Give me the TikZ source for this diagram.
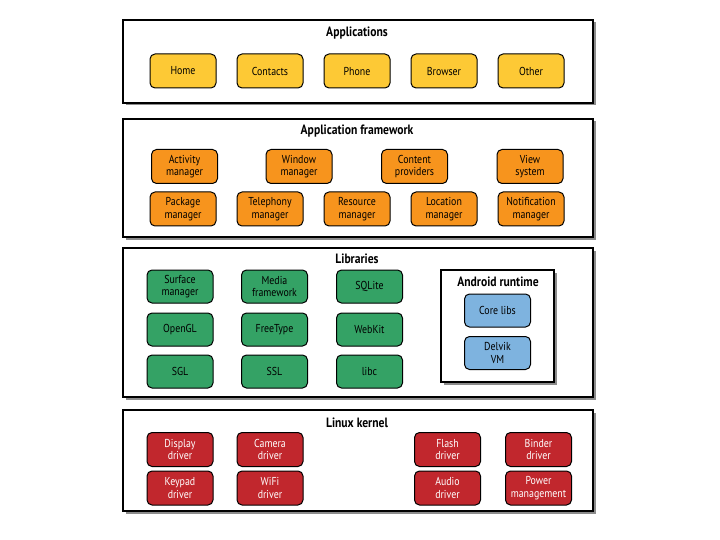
\documentclass[tikz,border=0pt]{standalone}
\usepackage{fontspec}
\setmainfont{PT Sans}[FakeStretch=0.86]
\usetikzlibrary{shadows}
\definecolor{appY}{HTML}{FDC935}
\definecolor{fwO}{HTML}{F7941D}
\definecolor{libG}{HTML}{34A265}
\definecolor{rtB}{HTML}{7EB3DF}
\definecolor{krR}{HTML}{C1272D}
\tikzset{
  layer/.style={draw=black, line width=1.4pt, fill=white,
    drop shadow={shadow xshift=2.5pt, shadow yshift=-2.5pt, fill=black!45, opacity=1}},
  blk/.style={draw=black, line width=1pt, rounded corners=5pt, minimum width=66pt,
    minimum height=34pt, align=center, inner sep=1pt,
    font=\fontsize{11.5}{12.5}\selectfont},
  ybox/.style={blk, fill=appY},
  obox/.style={blk, fill=fwO},
  gbox/.style={blk, fill=libG, minimum height=33pt},
  bbox/.style={blk, fill=rtB, minimum height=33pt},
  rbox/.style={blk, fill=krR, text=white, minimum height=34pt},
  ttl/.style={font=\fontsize{13.5}{15}\selectfont\bfseries, inner sep=0pt},
}
\begin{document}
\begin{tikzpicture}[x=1pt,y=-1pt]
\useasboundingbox (0,0) rectangle (720,540);
% layers
\node[layer, minimum width=470pt, minimum height=83pt] (Lapp) at (358,61.5) {};
\node[layer, minimum width=470pt, minimum height=118pt] (Lfw) at (358,178) {};
\node[layer, minimum width=470pt, minimum height=149pt] (Llib) at (358,322.5) {};
\node[layer, minimum width=470pt, minimum height=101pt] (Lkr) at (358,460.5) {};
\node[layer, line width=1.2pt, minimum width=113pt, minimum height=112pt] (Lrt) at (497.5,326) {};
% titles
\node[ttl] (tApp) at (357,33) {Applications};
\node[ttl] (tFw) at (357,131) {Application framework};
\node[ttl] (tLib) at (357,259) {Libraries};
\node[ttl] (tRt) at (498,282) {Android runtime};
\node[ttl] (tKr) at (357,423) {Linux kernel};
% applications
\node[ybox] (home) at (183,71) {Home};
\node[ybox] (contacts) at (270,71) {Contacts};
\node[ybox] (phone) at (357,71) {Phone};
\node[ybox] (browser) at (444,71) {Browser};
\node[ybox] (other) at (531,71) {Other};
% framework
\node[obox] (activity) at (184.5,166.5) {Activity\\manager};
\node[obox] (window) at (299,166.5) {Window\\manager};
\node[obox] (content) at (414.5,166.5) {Content\\providers};
\node[obox] (view) at (530,166.5) {View\\system};
\node[obox] (package) at (183,209) {Package\\manager};
\node[obox] (telephony) at (270,209) {Telephony\\manager};
\node[obox] (resource) at (357,209) {Resource\\manager};
\node[obox] (location) at (444,209) {Location\\manager};
\node[obox] (notification) at (531,209) {Notification\\manager};
% libraries
\node[gbox] (surface) at (180,286.5) {Surface\\manager};
\node[gbox] (media) at (274.5,286.5) {Media\\framework};
\node[gbox] (sqlite) at (369.5,286.5) {SQLite};
\node[gbox] (opengl) at (180,329.5) {OpenGL};
\node[gbox] (freetype) at (274.5,329.5) {FreeType};
\node[gbox] (webkit) at (369.5,329.5) {WebKit};
\node[gbox] (sgl) at (180,371.5) {SGL};
\node[gbox] (ssl) at (274.5,371.5) {SSL};
\node[gbox] (libc) at (369.5,371.5) {libc};
% runtime
\node[bbox] (corelibs) at (497.5,310.5) {Core libs};
\node[bbox] (delvik) at (497.5,353) {Delvik\\VM};
% kernel
\node[rbox] (display) at (180,449.5) {Display\\driver};
\node[rbox] (camera) at (270,449.5) {Camera\\driver};
\node[rbox] (flash) at (447.5,449.5) {Flash\\driver};
\node[rbox] (binder) at (538.5,449.5) {Binder\\driver};
\node[rbox] (keypad) at (180,488) {Keypad\\driver};
\node[rbox] (wifi) at (270,488) {WiFi\\driver};
\node[rbox] (audio) at (447.5,488) {Audio\\driver};
\node[rbox] (power) at (538.5,488) {Power\\management};
\end{tikzpicture}
\end{document}
